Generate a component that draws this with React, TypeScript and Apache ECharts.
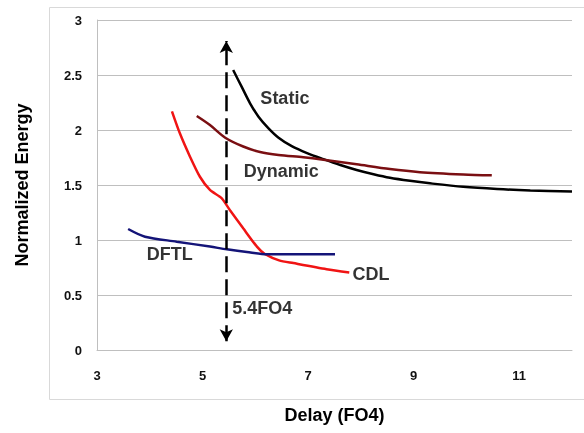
import React, { useEffect, useRef } from "react";
import * as echarts from "echarts";

const staticX = [5.58, 5.74, 5.9, 6.06, 6.25, 6.44, 6.69, 6.98, 7.29, 7.61, 7.92, 8.24, 8.55, 8.93, 9.31, 9.94, 10.58, 11.21, 12.0];
const staticY = [2.545, 2.394, 2.243, 2.121, 2.015, 1.93, 1.853, 1.79, 1.735, 1.682, 1.637, 1.598, 1.566, 1.538, 1.515, 1.483, 1.463, 1.45, 1.44];
const dynamicX = [4.89, 5.14, 5.43, 5.77, 6.09, 6.44, 6.91, 7.29, 7.92, 8.55, 9.12, 9.94, 10.48];
const dynamicY = [2.127, 2.045, 1.93, 1.85, 1.8, 1.773, 1.752, 1.73, 1.688, 1.645, 1.617, 1.596, 1.588];
const cdlX = [4.42, 4.57, 4.76, 4.95, 5.14, 5.36, 5.52, 5.77, 6.03, 6.18, 6.45, 6.72, 7.35, 7.78];
const cdlY = [2.17, 1.97, 1.76, 1.575, 1.455, 1.38, 1.27, 1.106, 0.94, 0.873, 0.815, 0.79, 0.735, 0.705];
const dftlX = [3.59, 3.91, 4.51, 5.14, 5.46, 5.84, 6.22, 7.51];
const dftlY = [1.1, 1.03, 0.985, 0.94, 0.915, 0.89, 0.87, 0.87];
const markerX = 5.45;
const arrowFrom = 0.08;
const arrowTo = 2.81;
const labelTexts = ["Static", "Dynamic", "DFTL", "CDL", "5.4FO4"];
const labelX = [6.56, 6.49, 4.38, 8.19, 6.13];
const labelY = [2.29, 1.627, 0.873, 0.69, 0.38];

const FONT = "'Liberation Sans', Arial, sans-serif";

const zip = (xs: number[], ys: number[]) => xs.map((x, i) => [x, ys[i]]);

export default function App() {
  const ref = useRef<HTMLDivElement>(null);
  useEffect(() => {
    if (!ref.current) return;
    const chart = echarts.init(ref.current, null, { renderer: "svg" });
    const lineSeries = (name: string, xs: number[], ys: number[], color: string, smooth: number) => ({
      name,
      type: "line",
      data: zip(xs, ys),
      smooth,
      showSymbol: false,
      symbol: "none",
      lineStyle: { color, width: 2.5 },
      z: 3,
    });
    chart.setOption({
      animation: false,
      textStyle: { fontFamily: FONT },
      graphic: [
        {
          type: "rect",
          left: 47,
          top: 5,
          shape: { width: 535, height: 392 },
          style: { fill: "none", stroke: "#d9d9d9", lineWidth: 1 },
          z: -1,
        },
      ],
      grid: { left: 97, right: 12, top: 20, bottom: 83, outerBoundsMode: "none", containLabel: false },
      xAxis: {
        type: "value",
        min: 3,
        max: 12,
        interval: 2,
        name: "Delay (FO4)",
        nameLocation: "middle",
        nameGap: 56,
        nameTextStyle: { fontFamily: FONT, fontWeight: "bold", fontSize: 18, color: "#000" },
        axisLine: { show: true, lineStyle: { color: "#bfbfbf", width: 1 } },
        axisTick: { show: false },
        splitLine: { show: false },
        axisLabel: {
          margin: 19,
          fontFamily: FONT,
          fontWeight: "bold",
          fontSize: 13,
          color: "#111",
          formatter: (v: number) => (v === 12 ? "" : String(v)),
        },
      },
      yAxis: {
        type: "value",
        min: 0,
        max: 3,
        interval: 0.5,
        name: "Normalized Energy",
        nameLocation: "middle",
        nameGap: 66,
        nameTextStyle: { fontFamily: FONT, fontWeight: "bold", fontSize: 18, color: "#000" },
        axisLine: { show: true, lineStyle: { color: "#bfbfbf", width: 1 } },
        axisTick: { show: false },
        splitLine: { show: true, lineStyle: { color: "#bfbfbf", width: 1 } },
        axisLabel: {
          margin: 15,
          fontFamily: FONT,
          fontWeight: "bold",
          fontSize: 13,
          color: "#111",
        },
      },
      series: [
        lineSeries("Static", staticX, staticY, "#000000", 0.3),
        lineSeries("Dynamic", dynamicX, dynamicY, "#7a0f12", 0.3),
        lineSeries("CDL", cdlX, cdlY, "#f01414", 0.25),
        lineSeries("DFTL", dftlX, dftlY, "#141478", 0.3),
        {
          name: "marker",
          type: "line",
          data: [],
          markLine: {
            silent: true,
            symbol: ["arrow", "arrow"],
            symbolSize: [10, 12],
            label: { show: false },
            lineStyle: { color: "#000", width: 2.5, type: [16, 7] },
            data: [[{ coord: [markerX, arrowFrom] }, { coord: [markerX, arrowTo] }]],
          },
          z: 2,
        },
        {
          name: "labels",
          type: "scatter",
          symbolSize: 0,
          data: labelTexts.map((t, i) => ({ value: [labelX[i], labelY[i]], name: t })),
          label: {
            show: true,
            position: "inside",
            formatter: (p: any) => p.name,
            fontFamily: FONT,
            fontWeight: "bold",
            fontSize: 18,
            color: "#000",
          },
          z: 5,
        },
      ],
    });
    return () => chart.dispose();
  }, []);
  return (
    <div
      ref={ref}
      style={{ position: "fixed", left: 0, top: 0, width: 584, height: 433 }}
    />
  );
}
